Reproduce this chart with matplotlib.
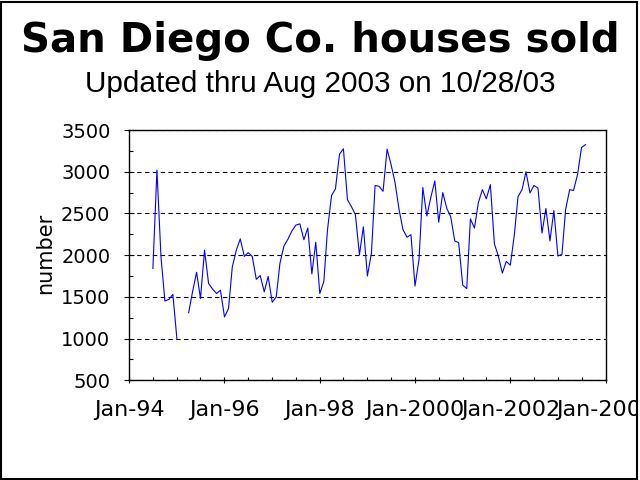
import matplotlib
matplotlib.use('Agg')
import matplotlib.pyplot as plt
import matplotlib.dates as mdates
from matplotlib.ticker import MultipleLocator, FuncFormatter
from matplotlib.patches import Rectangle
from matplotlib.transforms import Bbox, TransformedBbox
import numpy as np
import pandas as pd

# monthly houses sold (None = no data)
first_month = '1994-07-01'
sold_1994 = [1840, 3020, 1980, 1450, 1470, 1530]  # Jul-Dec
sold_1995 = [1000, None, None, 1310, 1560, 1795, 1480, 2060, 1660, 1595, 1540, 1580]
sold_1996 = [1260, 1360, 1860, 2060, 2195, 1985, 2030, 1985, 1710, 1755, 1560, 1745]
sold_1997 = [1435, 1500, 1900, 2110, 2190, 2290, 2360, 2375, 2185, 2325, 1775, 2155]
sold_1998 = [1540, 1685, 2305, 2715, 2795, 3210, 3275, 2665, 2580, 2485, 2005, 2340]
sold_1999 = [1750, 2025, 2835, 2825, 2765, 3270, 3090, 2870, 2545, 2305, 2215, 2245]
sold_2000 = [1630, 1950, 2810, 2470, 2690, 2890, 2395, 2750, 2560, 2460, 2170, 2150]
sold_2001 = [1640, 1600, 2435, 2325, 2630, 2785, 2675, 2845, 2135, 1990, 1785, 1925]
sold_2002 = [1880, 2245, 2700, 2785, 3000, 2745, 2835, 2805, 2265, 2560, 2170, 2535]
sold_2003 = [1990, 2010, 2545, 2785, 2775, 2970, 3290, 3325]  # Jan-Aug

title = 'San Diego Co. houses sold'
subtitle = 'Updated thru Aug 2003 on 10/28/03'
y_label = 'number'

values = sold_1994 + sold_1995 + sold_1996 + sold_1997 + sold_1998 + \
    sold_1999 + sold_2000 + sold_2001 + sold_2002 + sold_2003
values = np.array([np.nan if v is None else v for v in values], dtype=float)
months = pd.date_range(first_month, periods=len(values), freq='MS')

W, H = 640, 480
fig = plt.figure(figsize=(W / 100, H / 100), dpi=100)
fig.patch.set_facecolor('white')

# plot area in pixels: left 129, right 605, top 130, bottom 380
ax = fig.add_axes([129.3 / W, 1 - 380.3 / H, (605.5 - 129.3) / W, (380.3 - 130) / H])
ax.plot(months, values, color='#0000ff', linewidth=0.8)

ax.set_xlim(pd.Timestamp('1994-01-01'), pd.Timestamp('2004-01-01'))
ax.set_ylim(500, 3500)
ax.yaxis.set_major_locator(MultipleLocator(500))
ax.yaxis.set_minor_locator(MultipleLocator(250))
ax.xaxis.set_major_locator(mdates.YearLocator(2, month=1, day=1))
ax.xaxis.set_minor_locator(mdates.MonthLocator(bymonth=[1, 7]))


def excel_date(x, pos):
    d = mdates.num2date(x)
    if d.year < 2000:
        return 'Jan-%02d' % (d.year % 100)
    return 'Jan-%d' % d.year


ax.xaxis.set_major_formatter(FuncFormatter(excel_date))

ax.grid(axis='y', which='major', color='black', linestyle=(0, (4, 3)), linewidth=0.8)
for s in ax.spines.values():
    s.set_color('black')
    s.set_linewidth(1.0)

ax.tick_params(axis='y', which='major', direction='inout', length=7.2, width=0.8,
               labelsize=14, pad=10)
ax.tick_params(axis='y', which='minor', direction='in', length=3, width=0.8)
ax.tick_params(axis='x', which='major', direction='inout', length=5, width=0.8,
               labelsize=16, pad=11.5)
ax.tick_params(axis='x', which='minor', direction='in', length=2.5, width=0.8)
for lab in ax.get_xticklabels() + ax.get_yticklabels():
    lab.set_family('DejaVu Sans')

fig.text(45 / W, 1 - 253 / H, y_label, rotation=90, ha='center', va='center',
         fontsize=15, family='DejaVu Sans')
fig.text(0.5, 1 - 51.7 / H, title, ha='center', va='baseline',
         fontsize=29, fontweight='bold', family='DejaVu Sans')
fig.text(0.5, 1 - 91.5 / H, subtitle, ha='center', va='baseline',
         fontsize=21.4, family='Liberation Sans')

# outer frame of the chart
fig.add_artist(Rectangle((1 / W, 1 / H), 635.5 / W, 477.5 / H, transform=fig.transFigure,
                         fill=False, edgecolor='black', linewidth=1.5))

# last tick label is cut off by the frame, as in the original
fig.canvas.draw()
clip = TransformedBbox(Bbox([[0, 0], [636.5 / W, 1]]), fig.transFigure)
for t in ax.xaxis.get_major_ticks():
    if t.label1.get_text() == 'Jan-2004':
        t.label1.set_clip_on(True)
        t.label1.set_clip_box(clip)

plt.savefig('out.png', dpi=100)
plt.close()
